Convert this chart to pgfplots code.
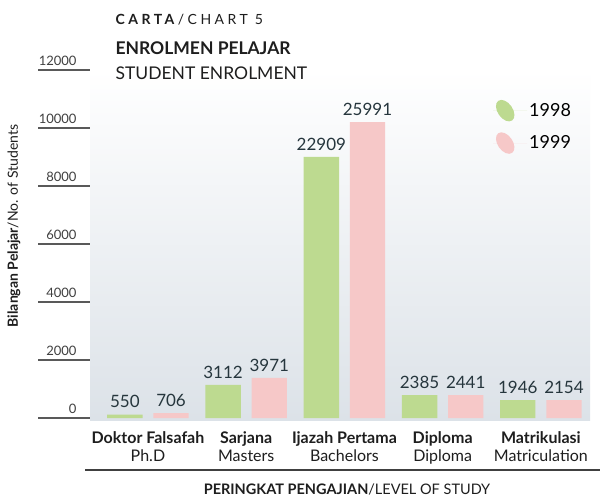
\documentclass[border=0pt]{standalone}
\usepackage{fontspec}
\setmainfont{Lato}
\usepackage{pgfplots}
\pgfplotsset{compat=1.18}
\definecolor{barG}{HTML}{BDDA90}
\definecolor{barP}{HTML}{F6C8C8}
\definecolor{bgB}{HTML}{DCE2E8}
\definecolor{numC}{HTML}{26363D}
\definecolor{txt}{HTML}{1E1E1E}

\begin{document}
\begin{tikzpicture}[x=1pt,y=1pt]
\fill[white] (0,0) rectangle (608,501);
\useasboundingbox (0,0) rectangle (608,501);
\begin{axis}[
  at={(90pt,81pt)}, anchor=south west,
  scale only axis, width=500pt, height=350pt,
  xmin=-0.59, xmax=4.5, ymin=-69, ymax=12000,
  axis line style={draw=none},
  axis background/.style={top color=white, bottom color=bgB},
  ybar, bar width=0.36,
  xtick={0,...,4},
  xticklabels={
    {\textbf{Doktor Falsafah}\\Ph.D},
    {\textbf{Sarjana}\\Masters},
    {\textbf{Ijazah Pertama}\\Bachelors},
    {\textbf{Diploma}\\Diploma},
    {\textbf{Matrikulasi}\\Matriculation}},
  x tick style={draw=none},
  xtick align=inside,
  xticklabel style={align=center, text=txt, font=\fontsize{16}{18}\selectfont, anchor=north, yshift=-8pt},
  ytick={0,2000,...,12000},
  ytick pos=left,
  y tick style={draw=black!65, line width=1.2pt},
  ytick align=outside, major tick length=52pt,
  scaled y ticks=false,
  /pgf/number format/assume math mode=true,
  yticklabel style={/pgf/number format/.cd, fixed, 1000 sep={}, /tikz/.cd,
    font=\fontsize{13}{13}\selectfont, text=black!75, anchor=south east, xshift=42pt, yshift=1pt},
  nodes near coords, point meta=explicit symbolic,
  every node near coord/.append style={font=\fontsize{17}{17}\selectfont, text=numC, anchor=south, yshift=3pt},
  legend image code/.code={\path (0pt,0pt) -- (34pt,0pt);
    \fill[#1, rotate around={35:(12pt,0pt)}] (12pt,0pt) ellipse (7.5pt and 12pt);},
  legend style={at={(0.80,0.925)}, anchor=north west, draw=none, fill=none,
    font=\fontsize{18}{18}\selectfont, row sep=8pt},
  legend cell align=left,
]
\addplot[fill=barG, draw=none, bar shift=-0.235]
coordinates {(0,120)[550] (1,1140)[3112] (2,9000)[22909] (3,790)[2385] (4,620)[1946]};
\addplot[fill=barP, draw=none, bar shift=0.235]
coordinates {(0,170)[706] (1,1380)[3971] (2,10200)[25991] (3,790)[2441] (4,620)[2154]};
\legend{1998,1999}
\end{axis}
\node[anchor=base west, text=txt] at (112,476)
  {\fontsize{14}{14}\selectfont\addfontfeatures{LetterSpace=25}\textbf{CARTA}/CHART 5};
\node[anchor=base west, text=txt] at (112,446)
  {\fontsize{17.5}{17.5}\selectfont\textbf{ENROLMEN PELAJAR}};
\node[anchor=base west, text=txt] at (112,421)
  {\fontsize{17.5}{17.5}\selectfont STUDENT ENROLMENT};
\node[rotate=90, text=txt] at (14,275)
  {\fontsize{14}{14}\selectfont\textbf{Bilangan Pelajar}/No. of Students};
\draw[black!75, line width=1.4pt] (85,31) -- (600,31);
\node[anchor=base, text=txt] at (347,7)
  {\fontsize{14.5}{14.5}\selectfont\textbf{PERINGKAT PENGAJIAN}/LEVEL OF STUDY};
\end{tikzpicture}
\end{document}
